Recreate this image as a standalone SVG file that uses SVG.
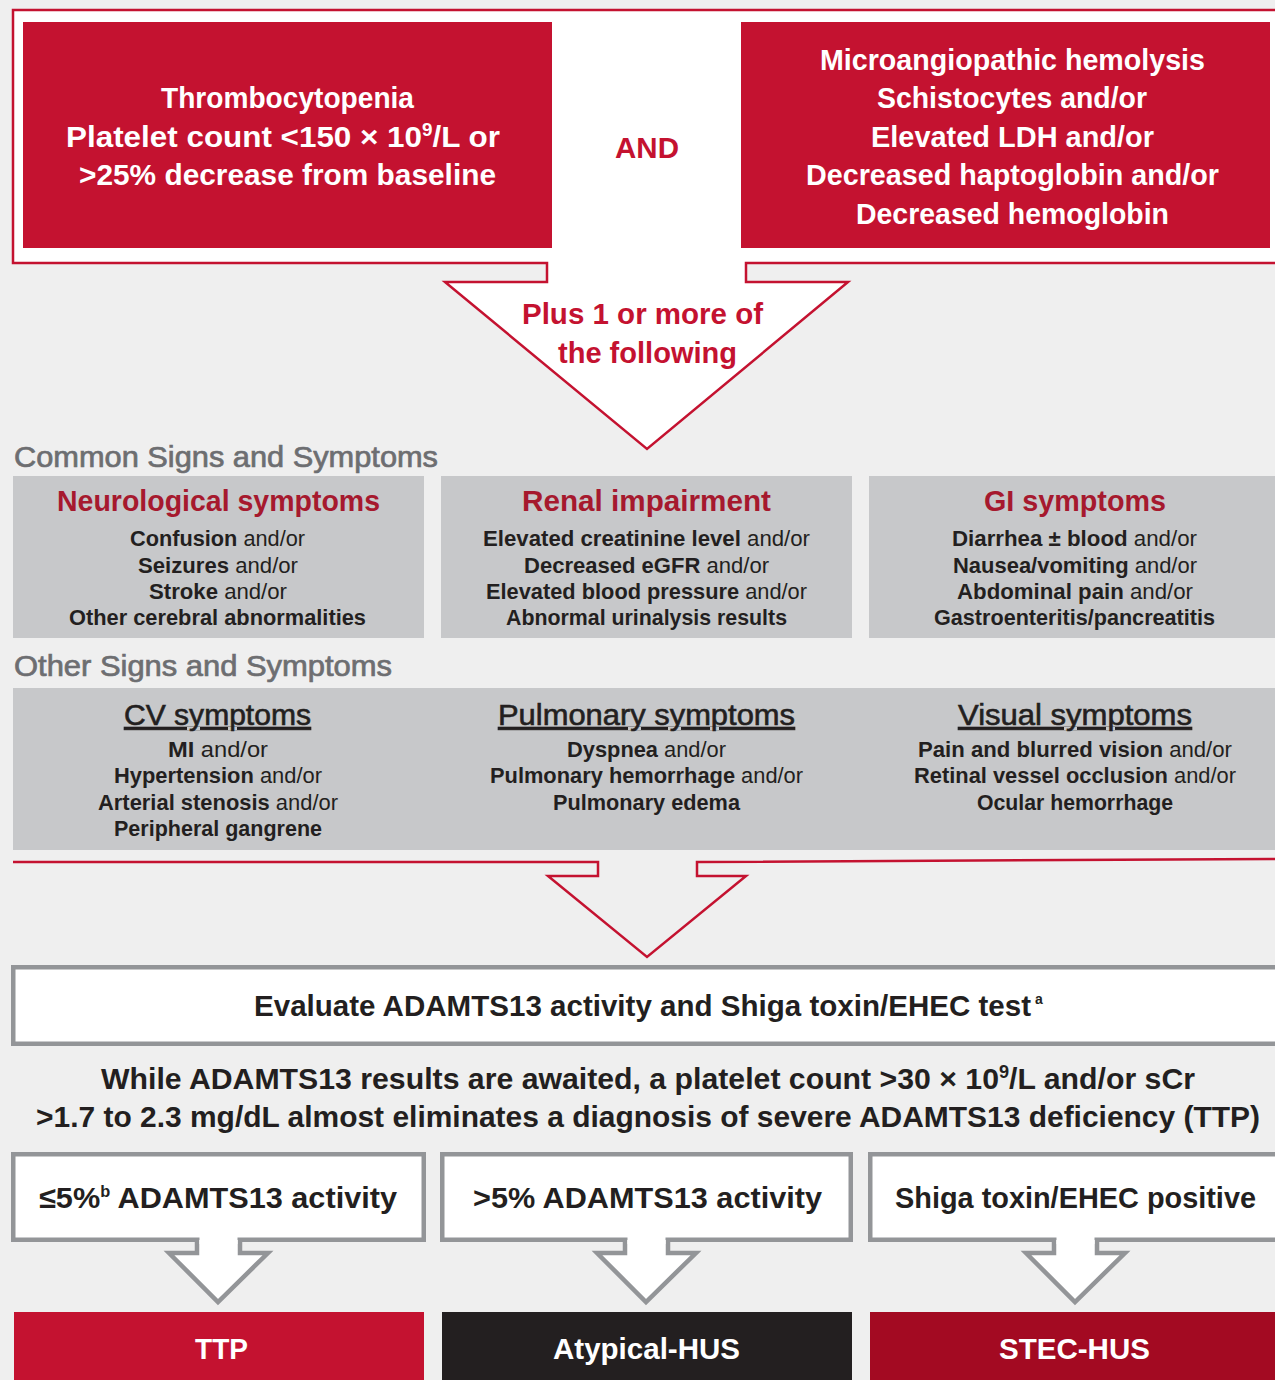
<svg xmlns="http://www.w3.org/2000/svg" width="1275" height="1380" viewBox="0 0 1275 1380">
<style>
text{font-family:"Liberation Sans",Arial,sans-serif;}
.b{font-weight:bold}
.hw{font-size:30px;font-weight:bold;fill:#fff}
.hk{font-size:30px;font-weight:bold;fill:#231f20}
.hr{font-size:30px;font-weight:bold;fill:#c41230}
.it{font-size:22px;fill:#231f20}
.sec{font-size:29px;fill:#6d6e71;stroke:#6d6e71;stroke-width:0.7}
.rh{font-size:29px;font-weight:bold;fill:#a6192e}
.uh{font-size:29px;fill:#231f20;stroke:#231f20;stroke-width:0.6;text-decoration:underline}
.redbox{fill:#c41230}
.gbox{fill:#c7c8ca}
.ro{fill:none;stroke:#c41230;stroke-width:2.5}
.rof{fill:#fff;stroke:#c41230;stroke-width:2.5}
.go{fill:#fff;stroke:#939598;stroke-width:4.5}
.ga{fill:#fff;stroke:#939598;stroke-width:4.5;stroke-linejoin:miter}
</style>
<rect width="1275" height="1380" fill="#efefef"/>

<g id="criteria-frame">
<path class="rof" d="M1285,10 H13 V263 H547 V282 H445 L647,449 L848,282 H746 V263 H1285"/>
</g>

<g id="node-thrombocytopenia">
<rect class="redbox" x="23" y="22" width="529" height="226"/>
<text class="hw" x="161" y="108" textLength="253" lengthAdjust="spacingAndGlyphs">Thrombocytopenia</text>
<text class="hw" x="66" y="147" textLength="434" lengthAdjust="spacingAndGlyphs">Platelet count &lt;150 × 10<tspan dy="-11" font-size="18">9</tspan><tspan dy="11">/L or</tspan></text>
<text class="hw" x="79" y="185" textLength="417" lengthAdjust="spacingAndGlyphs">&gt;25% decrease from baseline</text>
</g>

<g id="node-and">
<text class="hr" x="615" y="158" textLength="64" lengthAdjust="spacingAndGlyphs">AND</text>
</g>

<g id="node-mah">
<rect class="redbox" x="741" y="22" width="529" height="226"/>
<text class="hw" x="820" y="70" textLength="385" lengthAdjust="spacingAndGlyphs">Microangiopathic hemolysis</text>
<text class="hw" x="877" y="108" textLength="270" lengthAdjust="spacingAndGlyphs">Schistocytes and/or</text>
<text class="hw" x="871" y="147" textLength="283" lengthAdjust="spacingAndGlyphs">Elevated LDH and/or</text>
<text class="hw" x="806" y="185" textLength="413" lengthAdjust="spacingAndGlyphs">Decreased haptoglobin and/or</text>
<text class="hw" x="856" y="224" textLength="313" lengthAdjust="spacingAndGlyphs">Decreased hemoglobin</text>
</g>

<g id="connectors">
<text class="hr" x="522" y="324" textLength="241" lengthAdjust="spacingAndGlyphs">Plus 1 or more of</text>
<text class="hr" x="558" y="363" textLength="179" lengthAdjust="spacingAndGlyphs">the following</text>
<path class="ro" d="M13,862 H598 V876 H548 L647,957 L746,876 H697 V862 L1285,859"/>
</g>

<g id="label-common">
<text class="sec" x="14" y="467" textLength="424" lengthAdjust="spacingAndGlyphs">Common Signs and Symptoms</text>
</g>

<g id="node-neuro">
<rect class="gbox" x="13" y="476" width="411" height="162"/>
<text class="rh" x="57" y="511" textLength="323" lengthAdjust="spacingAndGlyphs">Neurological symptoms</text>
<text class="it" x="130" y="546" textLength="175" lengthAdjust="spacingAndGlyphs"><tspan class="b">Confusion</tspan> and/or</text>
<text class="it" x="138" y="572.5" textLength="160" lengthAdjust="spacingAndGlyphs"><tspan class="b">Seizures</tspan> and/or</text>
<text class="it" x="149" y="598.5" textLength="138" lengthAdjust="spacingAndGlyphs"><tspan class="b">Stroke</tspan> and/or</text>
<text class="it b" x="69" y="625" textLength="297" lengthAdjust="spacingAndGlyphs">Other cerebral abnormalities</text>
</g>

<g id="node-renal">
<rect class="gbox" x="441" y="476" width="411" height="162"/>
<text class="rh" x="522" y="511" textLength="249" lengthAdjust="spacingAndGlyphs">Renal impairment</text>
<text class="it" x="483" y="546" textLength="327" lengthAdjust="spacingAndGlyphs"><tspan class="b">Elevated creatinine level</tspan> and/or</text>
<text class="it" x="524" y="572.5" textLength="245" lengthAdjust="spacingAndGlyphs"><tspan class="b">Decreased eGFR</tspan> and/or</text>
<text class="it" x="486" y="598.5" textLength="321" lengthAdjust="spacingAndGlyphs"><tspan class="b">Elevated blood pressure</tspan> and/or</text>
<text class="it b" x="506" y="625" textLength="281" lengthAdjust="spacingAndGlyphs">Abnormal urinalysis results</text>
</g>

<g id="node-gi">
<rect class="gbox" x="869" y="476" width="406" height="162"/>
<text class="rh" x="984" y="511" textLength="182" lengthAdjust="spacingAndGlyphs">GI symptoms</text>
<text class="it" x="952" y="546" textLength="245" lengthAdjust="spacingAndGlyphs"><tspan class="b">Diarrhea ± blood</tspan> and/or</text>
<text class="it" x="953" y="572.5" textLength="244" lengthAdjust="spacingAndGlyphs"><tspan class="b">Nausea/vomiting</tspan> and/or</text>
<text class="it" x="957" y="598.5" textLength="236" lengthAdjust="spacingAndGlyphs"><tspan class="b">Abdominal pain</tspan> and/or</text>
<text class="it b" x="934" y="625" textLength="281" lengthAdjust="spacingAndGlyphs">Gastroenteritis/pancreatitis</text>
</g>

<g id="label-other">
<text class="sec" x="14" y="676" textLength="378" lengthAdjust="spacingAndGlyphs">Other Signs and Symptoms</text>
</g>

<g id="node-other">
<rect class="gbox" x="13" y="688" width="1262" height="162"/>
<text class="uh" x="124" y="725" textLength="187" lengthAdjust="spacingAndGlyphs">CV symptoms</text>
<text class="it" x="168" y="757" textLength="100" lengthAdjust="spacingAndGlyphs"><tspan class="b">MI</tspan> and/or</text>
<text class="it" x="114" y="783" textLength="208" lengthAdjust="spacingAndGlyphs"><tspan class="b">Hypertension</tspan> and/or</text>
<text class="it" x="98" y="810" textLength="240" lengthAdjust="spacingAndGlyphs"><tspan class="b">Arterial stenosis</tspan> and/or</text>
<text class="it b" x="114" y="836" textLength="208" lengthAdjust="spacingAndGlyphs">Peripheral gangrene</text>

<text class="uh" x="498" y="725" textLength="297" lengthAdjust="spacingAndGlyphs">Pulmonary symptoms</text>
<text class="it" x="567" y="757" textLength="159" lengthAdjust="spacingAndGlyphs"><tspan class="b">Dyspnea</tspan> and/or</text>
<text class="it" x="490" y="783" textLength="313" lengthAdjust="spacingAndGlyphs"><tspan class="b">Pulmonary hemorrhage</tspan> and/or</text>
<text class="it b" x="553" y="810" textLength="187" lengthAdjust="spacingAndGlyphs">Pulmonary edema</text>

<text class="uh" x="958" y="725" textLength="234" lengthAdjust="spacingAndGlyphs">Visual symptoms</text>
<text class="it" x="918" y="757" textLength="314" lengthAdjust="spacingAndGlyphs"><tspan class="b">Pain and blurred vision</tspan> and/or</text>
<text class="it" x="914" y="783" textLength="322" lengthAdjust="spacingAndGlyphs"><tspan class="b">Retinal vessel occlusion</tspan> and/or</text>
<text class="it b" x="977" y="810" textLength="196" lengthAdjust="spacingAndGlyphs">Ocular hemorrhage</text>
</g>

<g id="node-evaluate">
<rect class="go" x="13.25" y="967.25" width="1280" height="76.5"/>
<text class="hk" x="254" y="1016" textLength="777" lengthAdjust="spacingAndGlyphs">Evaluate ADAMTS13 activity and Shiga toxin/EHEC test</text>
<text class="hk" x="1035" y="1004" style="font-size:14px">a</text>
</g>

<g id="note-platelet">
<text class="hk" x="101" y="1089" textLength="1094" lengthAdjust="spacingAndGlyphs">While ADAMTS13 results are awaited, a platelet count &gt;30 × 10<tspan dy="-11" font-size="18">9</tspan><tspan dy="11">/L and/or sCr</tspan></text>
<text class="hk" x="36" y="1127" textLength="1224" lengthAdjust="spacingAndGlyphs">&gt;1.7 to 2.3 mg/dL almost eliminates a diagnosis of severe ADAMTS13 deficiency (TTP)</text>
</g>

<g id="node-low-activity">
<rect class="go" x="13.25" y="1154.25" width="410.5" height="85.5"/>
<text class="hk" x="39" y="1208" textLength="358" lengthAdjust="spacingAndGlyphs">≤5%<tspan dy="-11" font-size="16">b</tspan><tspan dy="11"> ADAMTS13 activity</tspan></text>
</g>

<g id="node-high-activity">
<rect class="go" x="442.25" y="1154.25" width="408.5" height="85.5"/>
<text class="hk" x="473" y="1208" textLength="349" lengthAdjust="spacingAndGlyphs">&gt;5% ADAMTS13 activity</text>
</g>

<g id="node-shiga">
<rect class="go" x="870.25" y="1154.25" width="420" height="85.5"/>
<text class="hk" x="895" y="1208" textLength="361" lengthAdjust="spacingAndGlyphs">Shiga toxin/EHEC positive</text>
</g>

<g id="connectors-results">
<path class="ga" d="M197,1240 V1253 H169 L218,1302 L268,1253 H240 V1240"/>
<rect x="199.5" y="1236" width="38" height="8" fill="#fff"/>
<path class="ga" d="M625,1240 V1253 H597 L646,1302 L696,1253 H668 V1240"/>
<rect x="627.5" y="1236" width="38" height="8" fill="#fff"/>
<path class="ga" d="M1054,1240 V1253 H1026 L1075,1302 L1125,1253 H1097 V1240"/>
<rect x="1056.5" y="1236" width="38" height="8" fill="#fff"/>
</g>

<g id="node-ttp">
<rect x="14" y="1312" width="410" height="68" fill="#c41230"/>
<text class="hw" x="195" y="1359" textLength="53" lengthAdjust="spacingAndGlyphs">TTP</text>
</g>
<g id="node-ahus">
<rect x="442" y="1312" width="410" height="68" fill="#231f20"/>
<text class="hw" x="553" y="1359" textLength="187" lengthAdjust="spacingAndGlyphs">Atypical-HUS</text>
</g>
<g id="node-stec">
<rect x="870" y="1312" width="405" height="68" fill="#a30a22"/>
<text class="hw" x="999" y="1359" textLength="151" lengthAdjust="spacingAndGlyphs">STEC-HUS</text>
</g>
</svg>
